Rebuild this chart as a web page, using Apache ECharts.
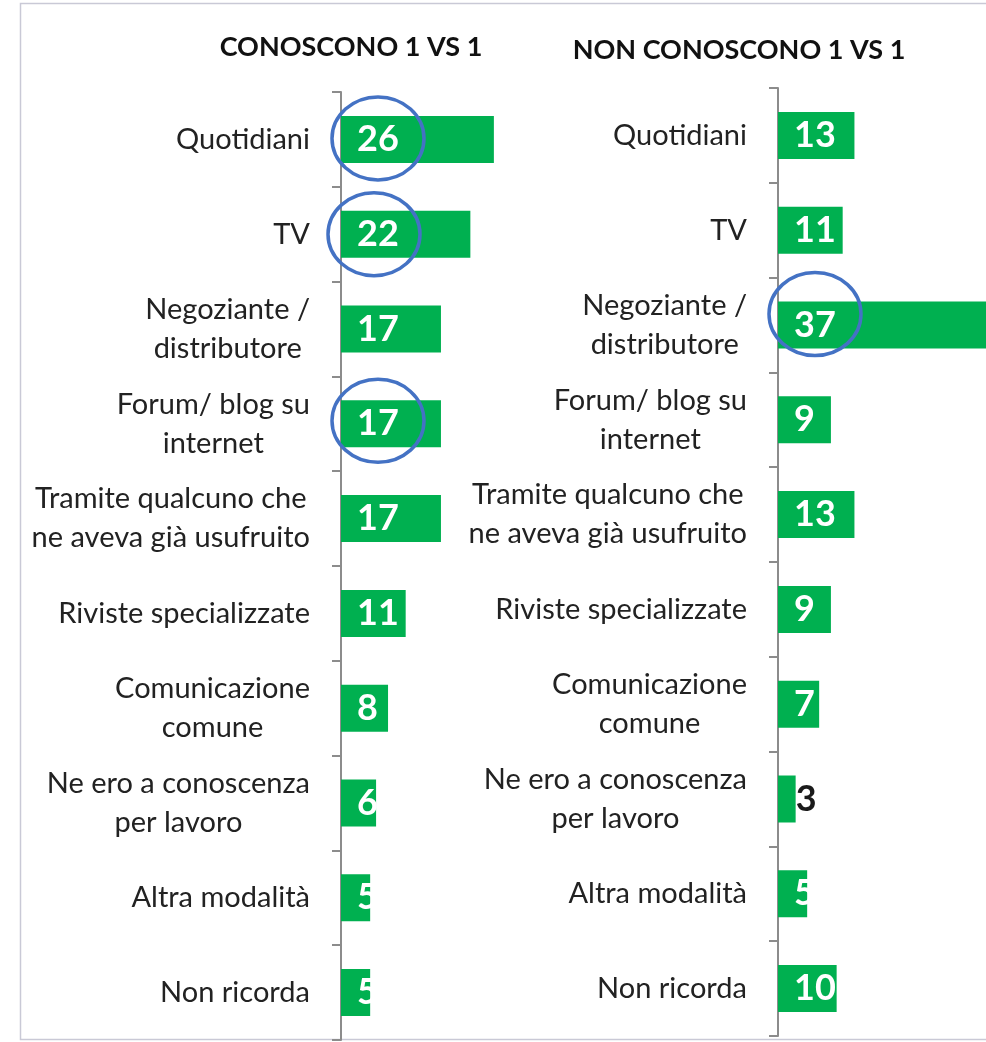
<!DOCTYPE html>
<html>
<head>
<meta charset="utf-8">
<script src="https://cdn.jsdelivr.net/npm/echarts@6/dist/echarts.min.js"></script>
<style>
  html, body { margin: 0; padding: 0; background: #ffffff; }
  #chart { width: 986px; height: 1042px; }
</style>
</head>
<body>
<div id="chart"></div>
<script>
// Categories shared by both panels (line breaks as shown on the axis)
const categories = [
  'Quotidiani',
  'TV',
  'Negoziante /\ndistributore',
  'Forum/ blog su\ninternet',
  'Tramite qualcuno che\nne aveva già usufruito',
  'Riviste specializzate',
  'Comunicazione\ncomune',
  'Ne ero a conoscenza\nper lavoro',
  'Altra modalità',
  'Non ricorda'
];

// Percentages per panel
const conosconoValues = [26, 22, 17, 17, 17, 11, 8, 6, 5, 5];
const nonConosconoValues = [13, 11, 37, 9, 13, 9, 7, 3, 5, 10];

const panelTitles = ['CONOSCONO 1 VS 1', 'NON CONOSCONO 1 VS 1'];

// Category indices whose value is circled
const conosconoRinged = [0, 1, 3];
const nonConosconoRinged = [2];

// ---- styling ----
const GREEN = '#00B050';
const RING = '#4472C4';
const AXIS_GREY = '#8c8c8c';
const TEXT = '#222222';
const PX_PER_UNIT = 5.88;    // shared horizontal scale of both panels
const LABEL_PAD = 16;        // value label offset from bar base
const DIGIT_W = 21;          // approx width of one value digit
const OUTSIDE_BELOW = 4;     // values under this get their label outside the bar
const RING_RX = 46, RING_RY = 41.5;
// hand-drawn rings sit slightly off the label centre
const RING_NUDGE = { '0-0': [0, -1], '0-1': [-4, 0], '0-3': [0, -3], '1-2': [0, -11] };

const CANVAS_W = 986;
const panels = [
  { values: conosconoValues, ringed: conosconoRinged, left: 341, top: 92, width: 235, titleX: 351, titleY: 47 },
  { values: nonConosconoValues, ringed: nonConosconoRinged, left: 778, top: 88, width: CANVAS_W - 778, titleX: 739, titleY: 50 }
];

const chart = echarts.init(document.getElementById('chart'), null, { renderer: 'canvas' });

function labelLines(v) {
  return v.split('\n').map(l => '{c|' + l + '}').join('\n');
}

const grid = [], xAxis = [], yAxis = [], series = [], graphic = [];

graphic.push({
  type: 'rect', silent: true, z: -10,
  shape: { x: 20.5, y: 3.5, width: 1000, height: 1036 },
  style: { fill: 'none', stroke: '#c9c9d6', lineWidth: 1.5 }
});

panels.forEach((p, k) => {
  grid.push({ left: p.left, top: p.top, width: p.width, height: 948, containLabel: false });
  xAxis.push({ type: 'value', gridIndex: k, min: 0, max: p.width / PX_PER_UNIT, show: false });
  yAxis.push({
    type: 'category', gridIndex: k, inverse: true, data: categories,
    axisLine: { show: true, lineStyle: { color: AXIS_GREY, width: 2 } },
    axisTick: { show: true, length: 9, lineStyle: { color: AXIS_GREY, width: 2 } },
    splitLine: { show: false },
    axisLabel: {
      margin: 31,
      formatter: labelLines,
      rich: { c: { align: 'center', fontFamily: 'Lato', fontSize: 29, color: TEXT, lineHeight: 39 } }
    }
  });

  series.push({
    type: 'bar', xAxisIndex: k, yAxisIndex: k, z: 2,
    barWidth: 47,
    clip: true,
    itemStyle: { color: GREEN },
    label: {
      show: true, position: 'insideLeft', distance: LABEL_PAD,
      color: '#ffffff', fontFamily: 'Lato', fontWeight: 'bold', fontSize: 36
    },
    data: p.values.map(v => v < OUTSIDE_BELOW
      ? { value: v, label: { position: 'right', distance: 0, color: '#1a1a1a' } }
      : v)
  });

  // trims value labels that run past the end of a short bar
  series.push({
    type: 'custom', xAxisIndex: k, yAxisIndex: k, z: 4, silent: true,
    data: p.values.map((v, i) => [v, i]),
    encode: { x: 0, y: 1 },
    renderItem: function (params, api) {
      const v = api.value(0), i = api.value(1);
      if (v < OUTSIDE_BELOW) return null;
      const s = api.coord([0, i]), e = api.coord([v, i]);
      const need = LABEL_PAD + String(v).length * DIGIT_W + 4;
      const w = e[0] - s[0];
      if (w >= need) return null;
      return {
        type: 'rect',
        shape: { x: e[0], y: e[1] - 26, width: need - w, height: 52 },
        style: { fill: '#ffffff' }
      };
    }
  });

  // rings around highlighted values
  series.push({
    type: 'custom', xAxisIndex: k, yAxisIndex: k, z: 6, silent: true,
    data: p.ringed.map(i => [p.values[i], i]),
    encode: { x: 0, y: 1 },
    renderItem: function (params, api) {
      const v = api.value(0), i = api.value(1);
      const s = api.coord([0, i]);
      const nudge = RING_NUDGE[k + '-' + i] || [0, 0];
      const cx = s[0] + LABEL_PAD + String(v).length * DIGIT_W / 2 + nudge[0];
      const cy = s[1] + nudge[1];
      return {
        type: 'ellipse',
        shape: { cx: cx, cy: cy, rx: RING_RX, ry: RING_RY },
        style: { fill: 'none', stroke: RING, lineWidth: 3.5 }
      };
    }
  });

  graphic.push({
    type: 'text', x: p.titleX, y: p.titleY, silent: true,
    style: {
      text: panelTitles[k], align: 'center', verticalAlign: 'middle',
      fontFamily: 'Lato', fontWeight: 'bold', fontSize: 27, fill: '#111111'
    }
  });
});

chart.setOption({
  animation: false,
  backgroundColor: '#ffffff',
  grid: grid,
  xAxis: xAxis,
  yAxis: yAxis,
  series: series,
  graphic: graphic
});
</script>
</body>
</html>
